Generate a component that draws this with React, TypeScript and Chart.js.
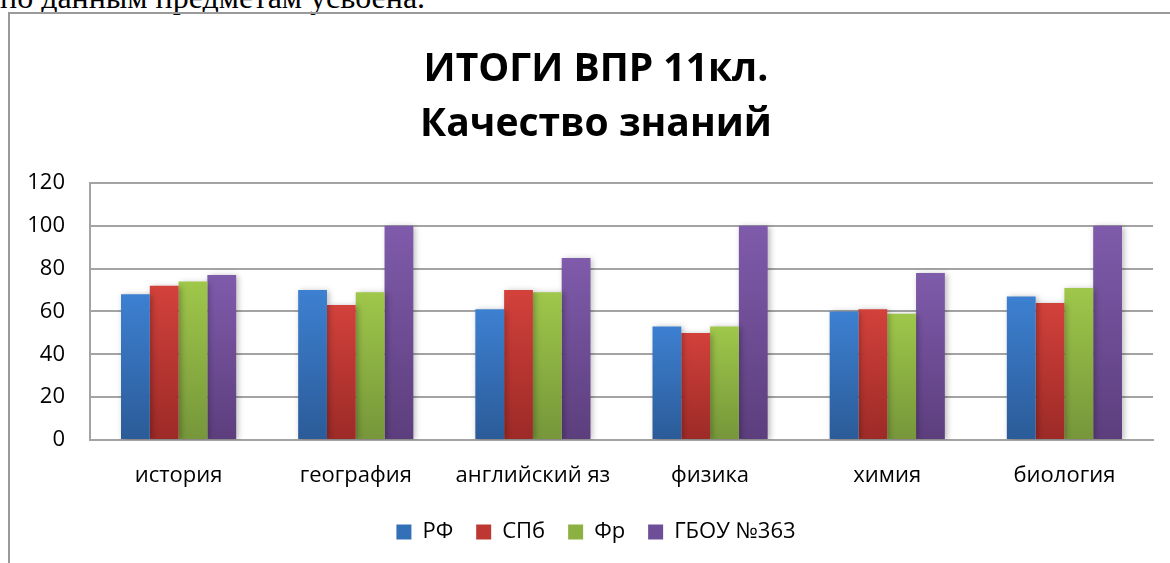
import React, { useEffect, useRef } from "react";
import { Chart, registerables } from "chart.js";

Chart.register(...registerables);

const categories = ["история", "география", "английский яз", "физика", "химия", "биология"];
const seriesNames = ["РФ", "СПб", "Фр", "ГБОУ №363"];
const rfValues = [68, 70, 61, 53, 60, 67];
const spbValues = [72, 63, 70, 50, 61, 64];
const frValues = [74, 69, 69, 53, 59, 71];
const schoolValues = [77, 100, 85, 100, 78, 100];
const titleLines = ["ИТОГИ ВПР 11кл.", "Качество знаний"];
const topText = "по данным предметам усвоена.";

const topColors = ["#3d80d1", "#d3413b", "#9fc74a", "#7f5bab"];
const bottomColors = ["#2b5b98", "#9c2a27", "#76963a", "#5c3e7d"];
const legendColors = ["#3470b8", "#bd3733", "#8cb142", "#6e4e96"];

const FONT = "'Open Sans', 'Noto Sans', sans-serif";

const shadowPlugin = {
  id: "barShadow",
  beforeDatasetsDraw(chart: any) {
    const ctx = chart.ctx;
    ctx.save();
    ctx.shadowColor = "rgba(0,0,0,0.28)";
    ctx.shadowBlur = 6;
    ctx.shadowOffsetX = 2;
    ctx.shadowOffsetY = 1;
  },
  afterDatasetsDraw(chart: any) {
    chart.ctx.restore();
  },
};

function gradientFor(i: number) {
  return (c: any) => {
    const chart = c.chart;
    const y = chart.scales && chart.scales.y;
    if (!y || c.type !== "data" || c.parsed == null || y.top === undefined) return legendColors[i];
    const top = y.getPixelForValue(c.parsed.y);
    const bottom = y.getPixelForValue(0);
    if (!isFinite(top) || !isFinite(bottom) || top === bottom) return legendColors[i];
    const g = chart.ctx.createLinearGradient(0, top, 0, bottom);
    g.addColorStop(0, topColors[i]);
    g.addColorStop(1, bottomColors[i]);
    return g;
  };
}

export default function App() {
  const ref = useRef<HTMLCanvasElement | null>(null);

  useEffect(() => {
    document.body.style.overflow = "hidden";
    const canvas = ref.current;
    if (!canvas) return;
    const values = [rfValues, spbValues, frValues, schoolValues];
    const chart = new Chart(canvas, {
      type: "bar",
      data: {
        labels: categories,
        datasets: seriesNames.map((name, i) => ({
          label: name,
          data: values[i],
          backgroundColor: gradientFor(i),
          borderWidth: 0,
          categoryPercentage: 0.65,
          barPercentage: 1.0,
        })),
      },
      options: {
        responsive: false,
        animation: false,
        devicePixelRatio: 1,
        layout: { padding: { left: 0, right: 0, top: 0, bottom: 10 } },
        plugins: {
          tooltip: { enabled: false },
          title: {
            display: true,
            text: titleLines,
            color: "#000",
            font: { family: FONT, size: 39, weight: "bold", lineHeight: 1.41 },
            padding: { top: 30, bottom: 31 },
          },
          legend: {
            position: "bottom",
            labels: {
              color: "#000",
              font: { family: FONT, size: 22 },
              boxWidth: 15,
              boxHeight: 15,
              padding: 23,
              generateLabels: (ch: any) => {
                const items = Chart.defaults.plugins.legend.labels.generateLabels(ch);
                return items.map((it: any, i: number) => ({
                  ...it,
                  fillStyle: legendColors[i],
                  strokeStyle: legendColors[i],
                  lineWidth: 0,
                }));
              },
            },
          },
        },
        scales: {
          x: {
            grid: { display: false, drawTicks: false },
            border: { display: true, color: "#a3a3a3", width: 2 },
            ticks: { color: "#000", font: { family: FONT, size: 22 }, padding: 23, maxRotation: 0 },
            afterFit: (s: any) => {
              s.height = 58;
            },
          },
          y: {
            min: 0,
            max: 120,
            ticks: { stepSize: 20, color: "#000", font: { family: FONT, size: 22 }, padding: 25 },
            grid: { color: "#a3a3a3", lineWidth: 2, drawTicks: false },
            border: { display: true, color: "#a3a3a3", width: 2 },
            afterFit: (s: any) => {
              s.width = 82;
            },
          },
          yRight: {
            type: "linear",
            position: "right",
            display: true,
            min: 0,
            max: 120,
            grid: { display: false, drawTicks: false },
            border: { display: false },
            ticks: { display: false },
            afterFit: (s: any) => {
              s.width = 31;
            },
          },
        },
      },
      plugins: [shadowPlugin],
    });
    return () => chart.destroy();
  }, []);

  return (
    <div
      style={{
        position: "fixed",
        left: 0,
        top: 0,
        width: 1170,
        height: 563,
        overflow: "hidden",
        background: "#fff",
      }}
    >
      <div
        style={{
          position: "absolute",
          left: 0,
          top: -19,
          fontFamily: "'Liberation Serif', 'Times New Roman', serif",
          fontSize: 32,
          lineHeight: "32px",
          whiteSpace: "nowrap",
          color: "#000",
        }}
      >
        {topText}
      </div>
      <div
        style={{
          position: "absolute",
          left: 8,
          top: 12,
          width: 1300,
          height: 700,
          borderLeft: "2px solid #9a9a9a",
          borderTop: "2px solid #9a9a9a",
          boxSizing: "border-box",
        }}
      />
      <canvas
        ref={ref}
        width={1176}
        height={551}
        style={{ position: "absolute", left: 8, top: 12, width: 1176, height: 551 }}
      />
    </div>
  );
}
